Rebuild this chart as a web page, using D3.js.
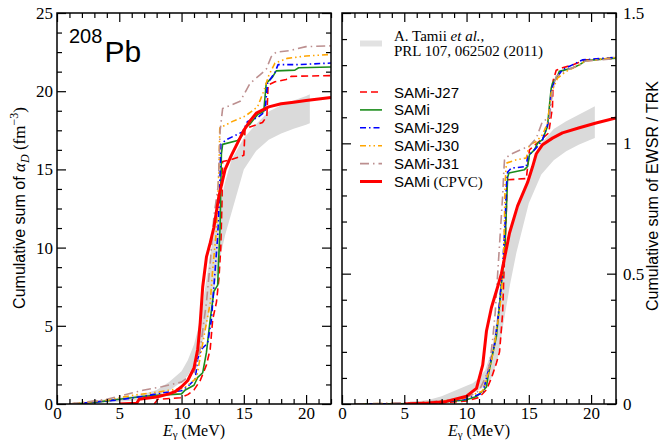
<!DOCTYPE html>
<html>
<head>
<meta charset="utf-8">
<script src="https://cdn.jsdelivr.net/npm/d3@7"></script>
<style>
  body { margin: 0; background: #fff; }
  svg { display: block; }
</style>
</head>
<body>
<div id="chart"></div>
<script>
// ---- data ----
var seriesNames = ["SAMi-J27", "SAMi", "SAMi-J29", "SAMi-J30", "SAMi-J31", "SAMi (CPVC)"];
var energyTicks = [0, 5, 10, 15, 20];
var alphaTicks = [0, 5, 10, 15, 20, 25];
var ewsrTicks = [0, 0.5, 1, 1.5];
var ewsrTickLabels = ["0", "0.5", "1", "1.5"];

// experimental band (Tamii et al.)
var bandE      = [1, 2, 3, 4, 5, 6, 7, 8, 9, 10, 10.5, 11, 11.5, 12, 12.5, 13, 13.5, 14, 15, 16, 17, 18, 19, 20, 20.3];
var alphaUpper = [0.05, 0.1, 0.2, 0.3, 0.4, 0.5, 0.65, 0.9, 1.4, 2.1, 2.8, 3.8, 5.3, 8.0, 10.5, 12.5, 14.2, 15.6, 17.0, 17.9, 18.7, 19.1, 19.4, 19.7, 19.8];
var alphaLower = [0, 0.02, 0.05, 0.1, 0.15, 0.2, 0.3, 0.5, 0.85, 1.4, 1.8, 2.5, 3.4, 5.0, 6.8, 9.0, 10.8, 12.2, 15.0, 16.2, 16.9, 17.3, 17.6, 17.85, 17.95];
var ewsrUpper  = [0, 0.001, 0.002, 0.004, 0.006, 0.01, 0.016, 0.03, 0.05, 0.07, 0.08, 0.1, 0.13, 0.2, 0.35, 0.51, 0.66, 0.73, 0.88, 1.0, 1.055, 1.085, 1.11, 1.135, 1.142];
var ewsrLower  = [0, 0, 0.001, 0.002, 0.003, 0.005, 0.008, 0.012, 0.02, 0.035, 0.043, 0.055, 0.07, 0.1, 0.17, 0.32, 0.46, 0.58, 0.77, 0.88, 0.935, 0.97, 0.995, 1.015, 1.02];

// cumulative alpha_D (fm^3), [E, value]
var j27Alpha = [[7.8,0],[8.1,0.3],[9.9,0.4],[10.5,0.6],[11.0,0.9],[11.5,1.5],[12.0,2.5],[12.3,3.5],[12.5,5.4],[12.8,6.5],[13.0,8.0],[13.15,10.0],[13.25,13.0],[13.3,15.5],[13.9,15.6],[15.0,15.9],[15.1,17.6],[16.5,18.0],[16.85,18.4],[16.95,20.4],[17.5,20.6],[18.4,20.75],[18.8,20.95],[22,21.0]];
var samiAlpha = [[1,0],[2,0.05],[3,0.1],[4,0.2],[5,0.3],[6,0.4],[7,0.5],[8,0.55],[9,0.6],[10,0.65],[10.3,0.9],[11,1.2],[11.3,1.7],[11.7,2.0],[12.0,3.3],[12.3,5.4],[12.6,7.2],[12.9,7.6],[13.0,9.6],[13.1,11.4],[13.2,16.0],[13.3,16.6],[14.5,16.85],[14.9,17.2],[15.1,17.65],[15.5,17.9],[16.1,18.5],[16.6,18.7],[16.8,20.5],[17.3,20.9],[17.6,21.3],[19.1,21.35],[19.4,21.5],[22,21.55]];
var j29Alpha = [[1,0],[2,0.05],[4,0.2],[5,0.27],[7,0.5],[8.5,0.72],[10,0.85],[10.6,1.2],[11.1,1.6],[11.3,2.9],[11.6,3.5],[12.1,3.9],[12.4,5.4],[12.7,8.6],[12.9,10.7],[13.05,13.5],[13.15,16.6],[13.6,16.9],[14.9,17.4],[15.3,18.07],[16.1,18.3],[16.7,18.7],[16.9,20.5],[17.5,21.2],[17.75,21.7],[19.35,21.7],[22,21.8]];
var j30Alpha = [[1,0],[2,0.08],[4,0.25],[6,0.55],[8,0.75],[10,1.0],[10.4,1.13],[11.2,1.66],[11.5,3.0],[11.9,4.75],[12.3,6.45],[12.5,8.6],[12.8,11.1],[13.0,15.0],[13.07,17.65],[14.1,18.07],[15.1,18.4],[15.6,18.7],[16.1,19.0],[16.6,20.0],[17.0,21.0],[17.5,21.8],[18.5,22.1],[20,22.25],[22,22.35]];
var j31Alpha = [[1,0],[2,0.1],[4,0.3],[6,0.7],[7,0.9],[8.4,1.1],[10,1.4],[11,2.0],[11.5,3.5],[12,6.5],[12.3,9],[12.6,12],[12.95,14],[13.1,17.5],[13.3,18.9],[14.7,19.35],[15.5,20.5],[16.3,21.05],[16.8,21.4],[17.2,22.2],[17.6,22.5],[18.7,22.6],[20,22.85],[22,22.9]];
var cpvcAlpha = [[5,0],[6.4,0.05],[6.6,0.3],[7,0.35],[8,0.45],[9,0.65],[9.5,0.8],[10,1.1],[10.5,1.5],[11,2.3],[11.3,3.5],[11.5,5.2],[11.7,7.5],[12,9.4],[12.3,10.3],[12.6,11.3],[13,13.3],[13.5,15],[14,15.9],[14.5,16.7],[15,17.5],[15.5,18.1],[16,18.6],[17,19.0],[18,19.2],[19,19.3],[20,19.4],[21,19.5],[22,19.6]];

// cumulative EWSR / TRK, [E, value]
var j27Ewsr = [[7.8,0],[8.2,0.005],[10,0.012],[11,0.025],[11.6,0.055],[12.0,0.1],[12.4,0.157],[12.65,0.2],[12.9,0.35],[13.0,0.5],[13.1,0.62],[13.2,0.75],[13.25,0.86],[14.8,0.865],[14.95,0.93],[15.05,0.975],[16.6,1.04],[16.9,1.14],[16.95,1.24],[17.2,1.28],[17.7,1.29],[18.5,1.3],[19.0,1.31],[19.5,1.32],[22,1.325]];
var samiEwsr = [[1,0],[5,0.001],[7,0.003],[10,0.016],[10.8,0.029],[11.3,0.05],[11.6,0.065],[11.7,0.1],[12.0,0.17],[12.4,0.26],[12.5,0.31],[12.65,0.38],[12.8,0.46],[13.0,0.55],[13.1,0.62],[13.2,0.75],[13.3,0.87],[13.4,0.886],[14.65,0.899],[14.9,0.911],[15.05,0.956],[15.45,0.975],[15.7,1.0],[16.1,1.014],[16.5,1.065],[16.65,1.142],[16.8,1.212],[16.9,1.231],[17.3,1.257],[17.45,1.276],[18.5,1.289],[19.06,1.301],[19.6,1.318],[22,1.327]];
var j29Ewsr = [[1,0],[4,0.001],[7,0.004],[9.7,0.016],[11.3,0.042],[11.6,0.1],[12.0,0.18],[12.25,0.23],[12.5,0.32],[12.65,0.39],[12.9,0.53],[13.1,0.7],[13.2,0.84],[13.3,0.89],[13.6,0.905],[14.8,0.911],[14.9,0.95],[15.6,0.982],[16.1,1.014],[16.5,1.07],[16.65,1.1],[16.8,1.206],[17.2,1.25],[17.7,1.282],[18.5,1.301],[19.3,1.32],[22,1.33]];
var j30Ewsr = [[1,0],[4,0.002],[7,0.006],[9.7,0.02],[11.3,0.05],[11.7,0.11],[11.85,0.13],[12.25,0.23],[12.5,0.31],[12.8,0.42],[13.0,0.6],[13.1,0.85],[13.2,0.924],[14.0,0.937],[14.8,0.944],[15.05,0.995],[15.6,1.007],[16.1,1.033],[16.5,1.078],[16.8,1.193],[17.3,1.25],[18.0,1.276],[19.06,1.301],[19.5,1.315],[22,1.33]];
var j31Ewsr = [[1,0],[3,0.002],[6,0.006],[8,0.012],[10,0.025],[11.0,0.05],[11.5,0.1],[11.85,0.15],[12.1,0.25],[12.3,0.35],[12.5,0.5],[12.7,0.65],[12.9,0.8],[13.0,0.9],[13.05,0.937],[13.45,0.956],[14.8,0.985],[15.05,0.99],[15.6,1.02],[16.1,1.085],[16.65,1.095],[16.9,1.199],[17.2,1.257],[18.0,1.28],[19.06,1.3],[19.5,1.315],[22,1.325]];
var cpvcEwsr = [[5,0],[7,0.004],[8.4,0.01],[10,0.03],[10.8,0.06],[11.3,0.15],[11.6,0.28],[12.0,0.37],[12.5,0.45],[12.8,0.5],[13.45,0.656],[14.1,0.76],[14.9,0.85],[15.3,0.91],[15.6,0.96],[16.1,0.995],[16.9,1.02],[17.7,1.04],[19.06,1.06],[20.4,1.078],[22,1.097]];

// ---- styles ----
var styles = [
  {color: "#ff0000", width: 1.6, dash: "7,4"},
  {color: "#1b8c1b", width: 1.6, dash: null},
  {color: "#0000ff", width: 1.6, dash: "6,3,1.5,3"},
  {color: "#ffa500", width: 1.6, dash: "6,3,1.5,3,1.5,3"},
  {color: "#bc8f8f", width: 1.6, dash: "9,4,1.5,4"},
  {color: "#ff0000", width: 3, dash: null}
];
var bandColor = "#dadada";

var width = 660, height = 442;
var svg = d3.select("#chart").append("svg")
    .attr("width", width)
    .attr("height", height);

var plotTop = 13, plotBottom = 404;
var xL = d3.scaleLinear().domain([0, 22]).range([57, 331]);
var xR = d3.scaleLinear().domain([0, 22]).range([342, 616]);
var yL = d3.scaleLinear().domain([0, 25]).range([plotBottom, plotTop]);
var yR = d3.scaleLinear().domain([0, 1.5]).range([plotBottom, plotTop]);

function drawPanel(id, x, y, upper, lower, curves) {
  var g = svg.append("g");
  g.append("clipPath").attr("id", id)
    .append("rect")
    .attr("x", x.range()[0]).attr("y", plotTop)
    .attr("width", x.range()[1] - x.range()[0])
    .attr("height", plotBottom - plotTop);

  var inner = g.append("g").attr("clip-path", "url(#" + id + ")");

  var band = bandE.map(function(e, i) { return {e: e, hi: upper[i], lo: lower[i]}; });
  inner.append("path")
    .datum(band)
    .attr("fill", bandColor)
    .attr("d", d3.area()
      .x(function(d) { return x(d.e); })
      .y0(function(d) { return y(d.lo); })
      .y1(function(d) { return y(d.hi); }));

  var line = d3.line()
    .x(function(d) { return x(d[0]); })
    .y(function(d) { return y(d[1]); });

  curves.forEach(function(c, i) {
    inner.append("path")
      .datum(c)
      .attr("fill", "none")
      .attr("stroke", styles[i].color)
      .attr("stroke-width", styles[i].width)
      .attr("stroke-dasharray", styles[i].dash)
      .attr("stroke-linejoin", "round")
      .attr("d", line);
  });
  return g;
}

drawPanel("clipL", xL, yL, alphaUpper, alphaLower,
  [j27Alpha, samiAlpha, j29Alpha, j30Alpha, j31Alpha, cpvcAlpha]);
drawPanel("clipR", xR, yR, ewsrUpper, ewsrLower,
  [j27Ewsr, samiEwsr, j29Ewsr, j30Ewsr, j31Ewsr, cpvcEwsr]);

// ---- axes ----
var tickFont = "'Liberation Serif', 'Times New Roman', serif";
var majorLen = 9, minorLen = 5;

function axisGroup(axis, tx, ty, labelled) {
  var g = svg.append("g")
    .attr("transform", "translate(" + tx + "," + ty + ")")
    .call(axis);
  g.select(".domain").remove();
  g.selectAll(".tick line").attr("stroke", "#000").attr("stroke-width", 1.2);
  g.selectAll("text")
    .style("font-family", tickFont)
    .style("font-size", "17px")
    .attr("fill", "#000");
  if (!labelled) g.selectAll("text").remove();
  return g;
}

function energyAxes(x) {
  var minor = d3.range(0, 23, 1).filter(function(v) { return v % 5 !== 0; });
  axisGroup(d3.axisBottom(x).tickValues(energyTicks).tickSize(-majorLen).tickPadding(3), 0, plotBottom, true);
  axisGroup(d3.axisBottom(x).tickValues(minor).tickSize(-minorLen).tickFormat(""), 0, plotBottom, false);
  axisGroup(d3.axisTop(x).tickValues(energyTicks).tickSize(-majorLen).tickFormat(""), 0, plotTop, false);
  axisGroup(d3.axisTop(x).tickValues(minor).tickSize(-minorLen).tickFormat(""), 0, plotTop, false);
}
energyAxes(xL);
energyAxes(xR);

var alphaMinor = d3.range(0, 25.01, 1.25).filter(function(v) { return v % 5 !== 0; });
axisGroup(d3.axisLeft(yL).tickValues(alphaTicks).tickSize(-majorLen).tickPadding(4), 57, 0, true);
axisGroup(d3.axisLeft(yL).tickValues(alphaMinor).tickSize(-minorLen).tickFormat(""), 57, 0, false);
axisGroup(d3.axisRight(yL).tickValues(alphaTicks).tickSize(-majorLen).tickFormat(""), 331, 0, false);
axisGroup(d3.axisRight(yL).tickValues(alphaMinor).tickSize(-minorLen).tickFormat(""), 331, 0, false);

var ewsrMinor = d3.range(0, 15, 1).map(function(v) { return v / 10; }).filter(function(v) { return v * 10 % 5 !== 0; });
axisGroup(d3.axisLeft(yR).tickValues(ewsrTicks).tickSize(-majorLen).tickFormat(""), 342, 0, false);
axisGroup(d3.axisLeft(yR).tickValues(ewsrMinor).tickSize(-minorLen).tickFormat(""), 342, 0, false);
axisGroup(d3.axisRight(yR).tickValues(ewsrTicks).tickSize(-majorLen).tickPadding(7)
  .tickFormat(function(d, i) { return ewsrTickLabels[i]; }), 616, 0, true);
axisGroup(d3.axisRight(yR).tickValues(ewsrMinor).tickSize(-minorLen).tickFormat(""), 616, 0, false);

// frames
[xL, xR].forEach(function(x) {
  svg.append("rect")
    .attr("x", x.range()[0]).attr("y", plotTop)
    .attr("width", x.range()[1] - x.range()[0])
    .attr("height", plotBottom - plotTop)
    .attr("fill", "none")
    .attr("stroke", "#000")
    .attr("stroke-width", 1.5);
});

// ---- axis titles ----
var sans = "'Liberation Sans', Arial, Helvetica, sans-serif";

[xL, xR].forEach(function(x) {
  var t = svg.append("text")
    .attr("x", (x.range()[0] + x.range()[1]) / 2)
    .attr("y", 436)
    .attr("text-anchor", "middle")
    .style("font-family", tickFont)
    .style("font-size", "16px");
  t.append("tspan").style("font-style", "italic").text("E");
  t.append("tspan").attr("dy", 2).style("font-size", "11px").text("γ");
  t.append("tspan").attr("dy", -2).text(" (MeV)");
});

var yTitle = svg.append("text")
  .attr("transform", "translate(25,208) rotate(-90)")
  .attr("text-anchor", "middle")
  .style("font-family", sans)
  .style("font-size", "16px");
yTitle.append("tspan").text("Cumulative sum of ");
yTitle.append("tspan").style("font-family", tickFont).style("font-style", "italic").style("font-size", "17px").text("α");
yTitle.append("tspan").attr("dy", 4).style("font-family", tickFont).style("font-style", "italic").style("font-size", "12px").text("D");
yTitle.append("tspan").attr("dy", -4).style("font-family", tickFont).style("font-size", "17px").text(" (fm");
yTitle.append("tspan").attr("dy", -7).style("font-family", tickFont).style("font-size", "12px").text("−3");
yTitle.append("tspan").attr("dy", 7).style("font-family", tickFont).style("font-size", "17px").text(")");

svg.append("text")
  .attr("transform", "translate(658,196) rotate(-90)")
  .attr("text-anchor", "middle")
  .style("font-family", sans)
  .style("font-size", "16px")
  .text("Cumulative sum of EWSR / TRK");

// nucleus label
var nuc = svg.append("text")
  .attr("x", 69).attr("y", 62)
  .style("font-family", sans);
nuc.append("tspan").attr("dy", -19).style("font-size", "20px").text("208");
nuc.append("tspan").attr("dy", 19).attr("dx", 2).style("font-size", "30px").text("Pb");

// ---- legend ----
var legX0 = 360, legX1 = 382, legTextX = 394;
svg.append("line")
  .attr("x1", legX0).attr("x2", legX1)
  .attr("y1", 43.5).attr("y2", 43.5)
  .attr("stroke", "#e2e2e2").attr("stroke-width", 6);
var ref1 = svg.append("text")
  .attr("x", legTextX).attr("y", 41)
  .style("font-family", tickFont).style("font-size", "15px");
ref1.append("tspan").text("A. Tamii ");
ref1.append("tspan").style("font-style", "italic").text("et al.");
ref1.append("tspan").text(",");
svg.append("text")
  .attr("x", legTextX).attr("y", 56)
  .style("font-family", tickFont).style("font-size", "15px")
  .text("PRL 107, 062502 (2011)");

seriesNames.forEach(function(name, i) {
  var yy = 92 + i * 17.9;
  svg.append("line")
    .attr("x1", legX0).attr("x2", legX1)
    .attr("y1", yy).attr("y2", yy)
    .attr("stroke", styles[i].color)
    .attr("stroke-width", styles[i].width)
    .attr("stroke-dasharray", styles[i].dash);
  var t = svg.append("text")
    .attr("x", legTextX).attr("y", yy + 5.5)
    .style("font-family", sans).style("font-size", "15px");
  var m = name.match(/^(\S+)(\s\(.*\))?$/);
  t.append("tspan").text(m[1]);
  if (m[2]) t.append("tspan").style("font-family", tickFont).text(m[2]);
});
</script>
</body>
</html>
